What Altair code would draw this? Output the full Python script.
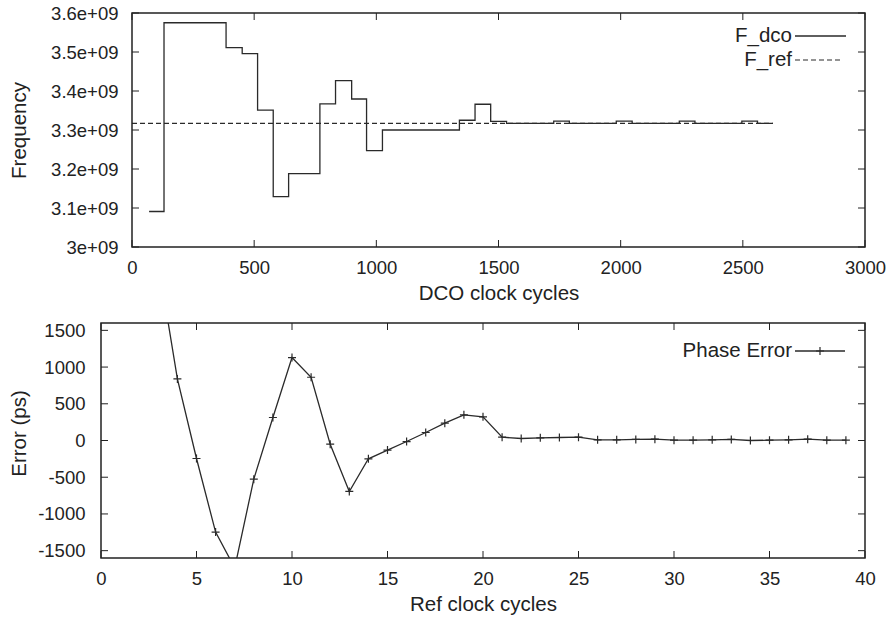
import altair as alt
import pandas as pd

# ---------------- data ----------------
# Top panel: DCO frequency (step) and reference frequency
dco_cycles = [70, 131, 385, 451, 514, 578, 641, 769, 833, 899, 960, 1025, 1340,
              1404, 1468, 1533, 1726, 1790, 1982, 2047, 2240, 2304, 2496, 2560, 2623]
dco_freq = [3.091e9, 3.575e9, 3.511e9, 3.496e9, 3.351e9, 3.129e9, 3.188e9, 3.367e9,
            3.4265e9, 3.3795e9, 3.247e9, 3.300e9, 3.325e9, 3.366e9, 3.322e9, 3.317e9,
            3.323e9, 3.317e9, 3.323e9, 3.317e9, 3.323e9, 3.317e9, 3.323e9, 3.317e9, 3.317e9]
ref_cycles_top = [0, 2623]
ref_freq = [3.317e9, 3.317e9]

# Bottom panel: phase error per reference clock cycle
ref_cycles = list(range(3, 40))
phase_err = [2425, 838, -245, -1247, -1735, -526, 313, 1129, 861, -50, -694, -249,
             -131, -14, 109, 236, 349, 322, 45, 27, 36, 41, 45, 9, 9, 14, 18, 5, 5,
             9, 14, 0, 5, 9, 18, 5, 5]

# tick values
top_x_ticks = [0, 500, 1000, 1500, 2000, 2500, 3000]
top_y_ticks = [3.0e9, 3.1e9, 3.2e9, 3.3e9, 3.4e9, 3.5e9, 3.6e9]
bot_x_ticks = [0, 5, 10, 15, 20, 25, 30, 35, 40]
bot_y_ticks = [-1500, -1000, -500, 0, 500, 1000, 1500]

# ---------------- style ----------------
FONT = "Liberation Sans"
INK = "#222222"
LINE = "#2a2a2a"
FS = 18.5   # tick labels
TFS = 20.5  # titles / legend
TL = 7      # inward tick length

W, TH, BH = 764, 234, 235   # both panels share a 764 px wide cell
INSET = 31                  # top panel's frame starts 31 px right of the bottom one

PLUS = "M-1,0L1,0M0,-1L0,1"
PLAIN = "'' + datum.value"


def xaxis(values, title):
    return alt.Axis(values=values, title=title, grid=False, domain=False, ticks=False,
                    labelPadding=11, labelFontSize=FS, titleFontSize=TFS, titlePadding=7,
                    labelFont=FONT, titleFont=FONT, labelColor=INK, titleColor=INK,
                    titleFontWeight="normal", labelFlush=False, labelOverlap=False,
                    labelExpr=PLAIN)


def yaxis(values, title, tx, ty, pad, expr, offset=0):
    return alt.Axis(values=values, title=title, grid=False, domain=False, ticks=False,
                    labelPadding=pad, labelFontSize=FS, titleFontSize=TFS,
                    labelFont=FONT, titleFont=FONT, labelColor=INK, titleColor=INK,
                    titleFontWeight="normal", labelFlush=False, labelOverlap=False,
                    titleX=tx, titleY=ty, titleBaseline="alphabetic", titleAlign="center",
                    labelExpr=expr, offset=offset)


def tick_layers(xv, yv, xs, ys, xa, ya, x0, x1, h):
    dx = pd.DataFrame({"t": xv})
    dy = pd.DataFrame({"t": yv})
    layers = []
    for (a, b) in [(h, h - TL), (0, TL)]:
        layers.append(alt.Chart(dx).mark_rule(color=INK, strokeWidth=1).encode(
            x=alt.X("t:Q", scale=xs, axis=xa), y=alt.value(a), y2=alt.value(b)))
    for (a, b) in [(x0, x0 + TL), (x1 - TL, x1)]:
        layers.append(alt.Chart(dy).mark_rule(color=INK, strokeWidth=1).encode(
            y=alt.Y("t:Q", scale=ys, axis=ya), x=alt.value(a), x2=alt.value(b)))
    return layers


one = alt.Data(values=[{"k": 1}])


def legend_text(txt, x, y):
    return alt.Chart(one).mark_text(align="right", baseline="middle", font=FONT,
                                    fontSize=TFS, color=INK).encode(
        x=alt.value(x), y=alt.value(y), text=alt.value(txt))


def frame(x0, x1, h):
    return alt.Chart(one).mark_rect(filled=False, stroke=INK, strokeWidth=1.5).encode(
        x=alt.value(x0), x2=alt.value(x1), y=alt.value(0), y2=alt.value(h))


# ---------------- top panel ----------------
txs = alt.Scale(domain=[0, 3000], range=[INSET, W], nice=False, zero=False)
tys = alt.Scale(domain=[3.0e9, 3.6e9], nice=False, zero=False)
txa = xaxis(top_x_ticks, "DCO clock cycles")
tya = yaxis(top_y_ticks, "Frequency", -107, TH / 2, 14,
            "format(datum.value / 1e9, '.1~f') + 'e+09'", offset=-INSET)

dco_df = pd.DataFrame({"c": dco_cycles, "f": dco_freq})
ref_df = pd.DataFrame({"c": ref_cycles_top, "f": ref_freq})

dco_line = alt.Chart(dco_df).mark_line(interpolate="step-after", color=LINE,
                                       strokeWidth=1.3, clip=True).encode(
    x=alt.X("c:Q", scale=txs, axis=txa), y=alt.Y("f:Q", scale=tys, axis=tya))
ref_line = alt.Chart(ref_df).mark_line(color=LINE, strokeWidth=1.1,
                                       strokeDash=[5, 3], clip=True).encode(
    x=alt.X("c:Q", scale=txs, axis=txa), y=alt.Y("f:Q", scale=tys, axis=tya))

L = INSET  # legend offsets inside the top cell
leg_l1 = alt.Chart(one).mark_rule(color=LINE, strokeWidth=1.3).encode(
    x=alt.value(663 + L), x2=alt.value(714 + L), y=alt.value(23))
leg_l2 = alt.Chart(one).mark_rule(color=LINE, strokeWidth=1.1, strokeDash=[5, 3]).encode(
    x=alt.value(663 + L), x2=alt.value(710 + L), y=alt.value(47))

top = alt.layer(dco_line, ref_line,
                *tick_layers(top_x_ticks, top_y_ticks, txs, tys, txa, tya, INSET, W, TH),
                frame(INSET, W, TH),
                legend_text("F_dco", 660 + L, 23), legend_text("F_ref", 660 + L, 47),
                leg_l1, leg_l2).properties(width=W, height=TH,
                                           view=alt.ViewBackground(strokeOpacity=0))

# ---------------- bottom panel ----------------
bxs = alt.Scale(domain=[0, 40], nice=False, zero=False)
bys = alt.Scale(domain=[-1600, 1600], nice=False, zero=False)
bxa = xaxis(bot_x_ticks, "Ref clock cycles")
bya = yaxis(bot_y_ticks, "Error (ps)", -76, 110, 16, PLAIN)

pe_df = pd.DataFrame({"n": ref_cycles, "e": phase_err})
pe_line = alt.Chart(pe_df).mark_line(color=LINE, strokeWidth=1.3, clip=True).encode(
    x=alt.X("n:Q", scale=bxs, axis=bxa), y=alt.Y("e:Q", scale=bys, axis=bya))
pe_pts = alt.Chart(pe_df).mark_point(shape=PLUS, size=64, filled=False, color=LINE,
                                     strokeWidth=1.2, opacity=1, clip=True).encode(
    x=alt.X("n:Q", scale=bxs, axis=bxa), y=alt.Y("e:Q", scale=bys, axis=bya))

leg_l3 = alt.Chart(one).mark_rule(color=LINE, strokeWidth=1.3).encode(
    x=alt.value(694), x2=alt.value(744), y=alt.value(28))
leg_p3 = alt.Chart(one).mark_point(shape=PLUS, size=64, filled=False, color=LINE,
                                   strokeWidth=1.2, opacity=1).encode(
    x=alt.value(719), y=alt.value(28))

bottom = alt.layer(pe_line, pe_pts,
                   *tick_layers(bot_x_ticks, bot_y_ticks, bxs, bys, bxa, bya, 0, W, BH),
                   frame(0, W, BH),
                   legend_text("Phase Error", 691, 28), leg_l3, leg_p3
                   ).properties(width=W, height=BH,
                                view=alt.ViewBackground(strokeOpacity=0))

chart = alt.vconcat(top, bottom, spacing=17).properties(
    padding={"left": 8, "top": 4, "right": 5, "bottom": 5},
    background="white",
)

chart.save("out.html", embed_options={"renderer": "svg", "actions": False})
